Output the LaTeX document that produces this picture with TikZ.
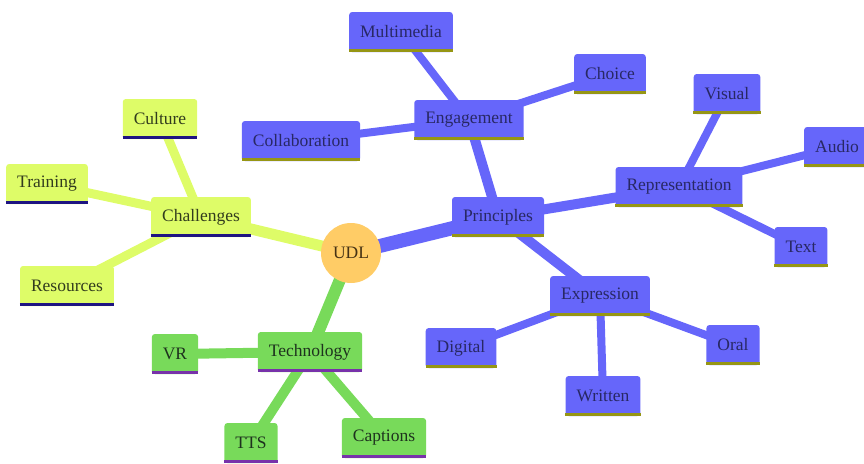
\documentclass[tikz,border=0pt]{standalone}
\usepackage{fontspec}
\setmainfont{Liberation Serif}
\usetikzlibrary{backgrounds}
\definecolor{bfill}{RGB}{102,102,250}
\definecolor{btext}{RGB}{40,40,100}
\definecolor{bline}{RGB}{150,150,20}
\definecolor{yfill}{RGB}{222,252,104}
\definecolor{ytext}{RGB}{50,60,30}
\definecolor{yline}{RGB}{30,20,130}
\definecolor{gfill}{RGB}{120,218,90}
\definecolor{gtext}{RGB}{30,50,30}
\definecolor{gline}{RGB}{120,50,170}
\definecolor{ufill}{RGB}{255,204,102}
\definecolor{utext}{RGB}{70,50,20}
\tikzset{
  box/.style={rectangle, rounded corners=3pt, minimum height=40pt, inner xsep=11pt, font=\fontsize{17.5}{17.5}\selectfont},
  bbox/.style={box, fill=bfill, text=btext},
  ybox/.style={box, fill=yfill, text=ytext},
  gbox/.style={box, fill=gfill, text=gtext},
  bedge/.style={draw=bfill, line width=#1},
  yedge/.style={draw=yfill, line width=#1},
  gedge/.style={draw=gfill, line width=#1},
}
\begin{document}
\begin{tikzpicture}[x=1pt,y=-1pt]
\useasboundingbox (0,0) rectangle (864,463);
\node[circle, fill=ufill, text=utext, minimum size=60pt, inner sep=0pt, font=\fontsize{17.5}{17.5}\selectfont] (udl) at (351,253) {UDL};
% blue
\node[bbox] (pri) at (498,217) {Principles};
\node[bbox] (eng) at (469,120) {Engagement};
\node[bbox] (mul) at (401,32) {Multimedia};
\node[bbox] (cho) at (610,74) {Choice};
\node[bbox] (col) at (301,141) {Collaboration};
\node[bbox] (rep) at (679,187) {Representation};
\node[bbox] (vis) at (727,94) {Visual};
\node[bbox] (aud) at (837,147) {Audio};
\node[bbox] (txt) at (801,247) {Text};
\node[bbox] (exp) at (600,296) {Expression};
\node[bbox] (dig) at (461,348) {Digital};
\node[bbox] (wri) at (603,396) {Written};
\node[bbox] (ora) at (733,345) {Oral};
% yellow
\node[ybox] (cha) at (201,217) {Challenges};
\node[ybox] (cul) at (160,119) {Culture};
\node[ybox] (tra) at (47,184) {Training};
\node[ybox] (res) at (67,286) {Resources};
% green
\node[gbox] (tec) at (310,352) {Technology};
\node[gbox] (vr) at (175,354) {VR};
\node[gbox] (tts) at (251,443) {TTS};
\node[gbox] (cap) at (384,438) {Captions};
% underlines
\foreach \n in {pri,eng,mul,cho,col,rep,vis,aud,txt,exp,dig,wri,ora}
  \draw[bline, line width=3pt] ([yshift=1.5pt]\n.south west) -- ([yshift=1.5pt]\n.south east);
\foreach \n in {cha,cul,tra,res}
  \draw[yline, line width=3pt] ([yshift=1.5pt]\n.south west) -- ([yshift=1.5pt]\n.south east);
\foreach \n in {tec,vr,tts,cap}
  \draw[gline, line width=3pt] ([yshift=1.5pt]\n.south west) -- ([yshift=1.5pt]\n.south east);
\begin{scope}[on background layer]
  \draw[bedge=14pt] (udl.center) -- (pri.center);
  \draw[bedge=10pt] (pri.center) -- (eng.center);
  \draw[bedge=10pt] (pri.center) -- (rep.center);
  \draw[bedge=10pt] (pri.center) -- (exp.center);
  \foreach \a/\b in {eng/mul,eng/cho,eng/col,rep/vis,rep/aud,rep/txt,exp/dig,exp/wri,exp/ora}
    \draw[bedge=8pt] (\a.center) -- (\b.center);
  \draw[yedge=11pt] (udl.center) -- (cha.center);
  \foreach \b in {cul,tra,res}
    \draw[yedge=9pt] (cha.center) -- (\b.center);
  \draw[gedge=12pt] (udl.center) -- (tec.center);
  \foreach \b in {vr,tts,cap}
    \draw[gedge=10pt] (tec.center) -- (\b.center);
\end{scope}
\end{tikzpicture}
\end{document}
